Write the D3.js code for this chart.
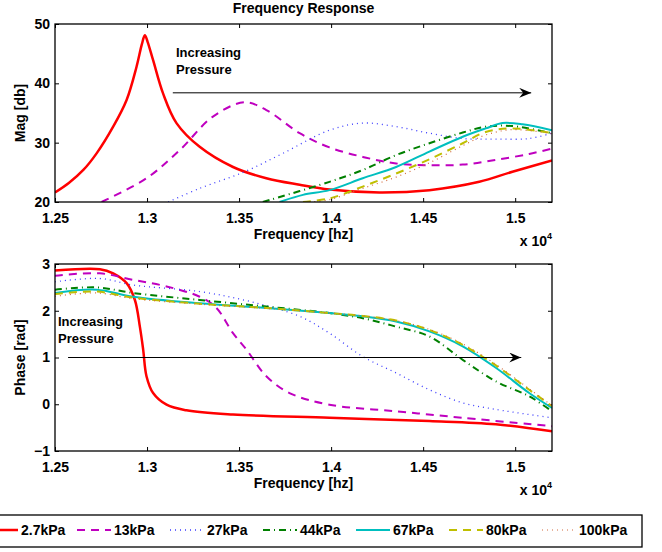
<!DOCTYPE html>
<html>
<head>
<meta charset="utf-8">
<script src="https://cdn.jsdelivr.net/npm/d3@7"></script>
<style>
  body { margin: 0; background: #fff; }
  text { font-family: "Liberation Sans", Arial, sans-serif; font-weight: bold; }
</style>
</head>
<body>
<svg id="chart" width="662" height="552"></svg>
<script>
// frequencies are in units of 1e4 hz
var seriesNames = ["2.7kPa", "13kPa", "27kPa", "44kPa", "67kPa", "80kPa", "100kPa"];
var xTicks = [1.25, 1.3, 1.35, 1.4, 1.45, 1.5];
var magTicks = [20, 30, 40, 50];
var phaseTicks = [-1, 0, 1, 2, 3];

// magnitude [db]
var mag2_7 = [[1.25,21.6],[1.2575,23.2],[1.2654,25.4],[1.2726,28.2],[1.2816,32.7],[1.2889,37.2],[1.2943,42.8],[1.2972,46.6],[1.2988,48.1],[1.3003,47.0],[1.3033,43.9],[1.3087,38.3],[1.316,33.3],[1.3286,29.3],[1.3467,25.9],[1.3648,24.0],[1.3829,22.9],[1.3991,22.1],[1.4262,21.6],[1.4534,22.0],[1.4805,23.4],[1.4985,25.1],[1.52,27.0]];
var mag13 = [[1.2753,20],[1.2997,24.0],[1.3178,28.75],[1.3358,34.4],[1.353,36.8],[1.3648,35.5],[1.3829,31.6],[1.3991,29.2],[1.4172,27.6],[1.4353,26.5],[1.4534,26.2],[1.4715,26.3],[1.4895,27.1],[1.5076,28.1],[1.52,29.0]];
var mag27 = [[1.3115,20],[1.3286,22.3],[1.353,25.1],[1.3738,28.2],[1.3991,32.1],[1.4172,33.3],[1.4353,32.7],[1.4534,31.6],[1.4715,30.7],[1.4895,30.6],[1.5076,30.7],[1.52,31.6]];
var mag44 = [[1.3629,20],[1.3991,23.4],[1.4172,25.4],[1.4353,27.9],[1.4534,29.9],[1.4715,31.7],[1.484,32.7],[1.4985,32.8],[1.52,31.6]];
var mag67 = [[1.372,20],[1.3847,21.2],[1.3991,22.0],[1.4172,24.0],[1.4353,25.9],[1.4534,28.5],[1.4715,31.0],[1.484,32.4],[1.4931,33.3],[1.504,33.1],[1.52,32.1]];
var mag80 = [[1.3847,20],[1.3991,20.6],[1.4172,22.6],[1.4353,24.8],[1.4534,27.2],[1.4715,29.9],[1.484,31.8],[1.4985,32.4],[1.52,31.6]];
var mag100 = [[1.3883,20],[1.3991,20.4],[1.4172,22.3],[1.4353,24.2],[1.4534,26.6],[1.4715,29.5],[1.484,31.3],[1.4985,32.2],[1.52,31.5]];

// phase [rad]
var ph2_7 = [[1.25,2.86],[1.2744,2.89],[1.2816,2.80],[1.2889,2.59],[1.2934,2.23],[1.2961,1.66],[1.2979,1.17],[1.2997,0.60],[1.3033,0.24],[1.3106,-0.01],[1.3214,-0.13],[1.3467,-0.22],[1.3991,-0.29],[1.4534,-0.36],[1.4895,-0.43],[1.52,-0.58]];
var ph13 = [[1.25,2.75],[1.2744,2.80],[1.2924,2.66],[1.3106,2.52],[1.3286,2.30],[1.3377,2.06],[1.3467,1.52],[1.354,1.17],[1.3648,0.60],[1.3774,0.24],[1.3991,-0.01],[1.4353,-0.15],[1.4715,-0.29],[1.52,-0.47]];
var ph27 = [[1.25,2.62],[1.2744,2.69],[1.2924,2.55],[1.3286,2.41],[1.3557,2.20],[1.3829,1.88],[1.3991,1.52],[1.4172,1.02],[1.4353,0.67],[1.4534,0.31],[1.4715,0.03],[1.4895,-0.11],[1.52,-0.29]];
var ph44 = [[1.25,2.45],[1.2726,2.50],[1.2924,2.38],[1.3286,2.23],[1.3648,2.09],[1.3991,1.95],[1.4172,1.84],[1.4353,1.66],[1.4534,1.45],[1.4715,0.95],[1.4895,0.49],[1.5076,0.17],[1.52,-0.15]];
var ph67 = [[1.25,2.38],[1.2726,2.45],[1.2924,2.30],[1.3286,2.16],[1.3648,2.06],[1.3991,1.95],[1.4172,1.88],[1.4353,1.77],[1.4534,1.56],[1.4715,1.24],[1.4895,0.78],[1.5076,0.24],[1.52,-0.08]];
var ph80 = [[1.25,2.36],[1.2726,2.41],[1.2924,2.28],[1.3286,2.15],[1.3648,2.06],[1.3991,1.95],[1.4172,1.89],[1.4353,1.79],[1.4534,1.59],[1.4715,1.27],[1.4895,0.83],[1.5076,0.31],[1.52,-0.04]];
var ph100 = [[1.25,2.31],[1.2726,2.38],[1.2924,2.26],[1.3286,2.14],[1.3648,2.05],[1.3991,1.95],[1.4172,1.89],[1.4353,1.79],[1.4534,1.60],[1.4715,1.29],[1.4895,0.85],[1.5076,0.33],[1.52,-0.03]];

var magData = [mag2_7, mag13, mag27, mag44, mag67, mag80, mag100];
var phaseData = [ph2_7, ph13, ph27, ph44, ph67, ph80, ph100];

// line styles, same order as seriesNames
var styles = [
  { color: "#ff0000", width: 2.5, dash: null },
  { color: "#bf00bf", width: 2, dash: "8,6" },
  { color: "#3b3bff", width: 1.3, dash: "1,4" },
  { color: "#008000", width: 2, dash: "7,4,1,4" },
  { color: "#00bfbf", width: 2, dash: null },
  { color: "#bfbf00", width: 2, dash: "8,6" },
  { color: "#d2693c", width: 1.2, dash: "1,4" }
];

var svg = d3.select("#chart");
var left = 55, right = 552;

var x = d3.scaleLinear().domain([1.25, 1.52]).range([left, right]);

// arrowhead
svg.append("defs").append("marker")
    .attr("id", "arrow")
    .attr("viewBox", "0 0 12 10")
    .attr("refX", 12).attr("refY", 5)
    .attr("markerWidth", 12).attr("markerHeight", 10)
    .attr("markerUnits", "userSpaceOnUse")
    .attr("orient", "auto")
  .append("path")
    .attr("d", "M0,0 L12,5 L0,10 L4,5 Z")
    .attr("fill", "#000");

function drawPanel(cfg) {
    var y = d3.scaleLinear().domain(cfg.domain).range([cfg.bottom, cfg.top]);
    var g = svg.append("g");

    g.append("clipPath").attr("id", cfg.id)
      .append("rect")
        .attr("x", left).attr("y", cfg.top)
        .attr("width", right - left).attr("height", cfg.bottom - cfg.top);

    // axes with inside ticks
    g.append("g")
        .attr("transform", "translate(0," + cfg.bottom + ")")
        .call(d3.axisBottom(x).tickValues(xTicks).tickFormat(d3.format("")).tickSizeInner(-4).tickSizeOuter(0).tickPadding(11));
    g.append("g")
        .attr("transform", "translate(0," + cfg.top + ")")
        .call(d3.axisTop(x).tickValues(xTicks).tickFormat("").tickSizeInner(-4).tickSizeOuter(0));
    g.append("g")
        .attr("transform", "translate(" + left + ",0)")
        .call(d3.axisLeft(y).tickValues(cfg.ticks).tickFormat(function(d) { return d < 0 ? "\u2212" + (-d) : d; }).tickSizeInner(-4).tickSizeOuter(0).tickPadding(5));
    g.append("g")
        .attr("transform", "translate(" + right + ",0)")
        .call(d3.axisRight(y).tickValues(cfg.ticks).tickFormat("").tickSizeInner(-4).tickSizeOuter(0));

    g.selectAll(".domain").remove();
    g.selectAll(".tick line").attr("stroke", "#000");
    g.selectAll(".tick text").style("font-size", "14px").attr("fill", "#000")
        .style("font-family", "'Liberation Sans', Arial, sans-serif").style("font-weight", "bold");

    var line = d3.line()
        .x(function(d) { return x(d[0]); })
        .y(function(d) { return y(d[1]); })
        .curve(d3.curveCatmullRom.alpha(0.5));

    var plot = g.append("g").attr("clip-path", "url(#" + cfg.id + ")");
    cfg.data.forEach(function(series, i) {
        plot.append("path")
            .datum(series)
            .attr("fill", "none")
            .attr("stroke", styles[i].color)
            .attr("stroke-width", styles[i].width)
            .attr("stroke-dasharray", styles[i].dash)
            .attr("stroke-linejoin", "round")
            .attr("d", line);
    });

    // arrow annotation
    g.append("line")
        .attr("x1", x(cfg.arrow[0])).attr("x2", x(cfg.arrow[1]))
        .attr("y1", y(cfg.arrow[2])).attr("y2", y(cfg.arrow[2]))
        .attr("stroke", "#000").attr("stroke-width", 1)
        .attr("marker-end", "url(#arrow)");
    var note = g.append("text")
        .attr("x", cfg.noteX).attr("y", cfg.noteY)
        .style("font-size", "13px");
    note.append("tspan").attr("x", cfg.noteX).text("Increasing");
    note.append("tspan").attr("x", cfg.noteX).attr("dy", 17).text("Pressure");

    // box
    g.append("rect")
        .attr("x", left).attr("y", cfg.top)
        .attr("width", right - left).attr("height", cfg.bottom - cfg.top)
        .attr("fill", "none").attr("stroke", "#000").attr("stroke-width", 1.3);

    // labels
    g.append("text")
        .attr("x", (left + right) / 2).attr("y", cfg.bottom + 37)
        .attr("text-anchor", "middle").style("font-size", "14px")
        .text("Frequency [hz]");
    g.append("text")
        .attr("transform", "translate(25," + ((cfg.top + cfg.bottom) / 2) + ") rotate(-90)")
        .attr("text-anchor", "middle").style("font-size", "14px")
        .text(cfg.ylabel);
    var mult = g.append("text")
        .attr("x", right).attr("y", cfg.bottom + 44)
        .attr("text-anchor", "end").style("font-size", "14px");
    mult.append("tspan").text("x 10");
    mult.append("tspan").attr("dy", -7).style("font-size", "9px").text("4");
}

svg.append("text")
    .attr("x", (left + right) / 2).attr("y", 13)
    .attr("text-anchor", "middle").style("font-size", "14px")
    .text("Frequency Response");

drawPanel({ id: "clipMag", top: 24, bottom: 202, domain: [20, 50], ticks: magTicks,
    data: magData, ylabel: "Mag [db]", arrow: [1.314, 1.5087, 38.4], noteX: 176, noteY: 57 });
drawPanel({ id: "clipPhase", top: 264, bottom: 451, domain: [-1, 3], ticks: phaseTicks,
    data: phaseData, ylabel: "Phase [rad]", arrow: [1.2571, 1.5033, 1.0], noteX: 58, noteY: 326 });

// legend
var legend = svg.append("g");
legend.append("rect")
    .attr("x", -20).attr("y", 515).attr("width", 662).attr("height", 32)
    .attr("fill", "#fff").attr("stroke", "#000").attr("stroke-width", 1.3);
seriesNames.forEach(function(name, i) {
    var x0 = -16 + i * 93;
    legend.append("line")
        .attr("x1", x0).attr("x2", x0 + 34)
        .attr("y1", 530).attr("y2", 530)
        .attr("stroke", styles[i].color)
        .attr("stroke-width", styles[i].width)
        .attr("stroke-dasharray", styles[i].dash);
    legend.append("text")
        .attr("x", x0 + 37).attr("y", 535)
        .style("font-size", "14px")
        .text(name);
});
</script>
</body>
</html>
